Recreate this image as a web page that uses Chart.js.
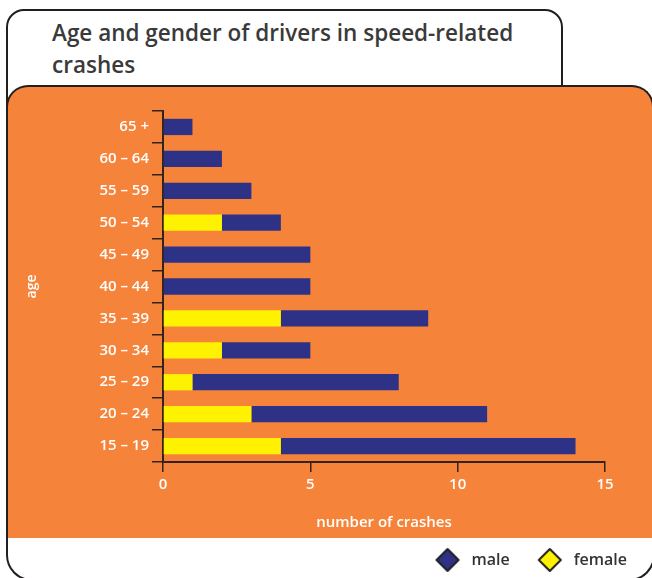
<!DOCTYPE html>
<html>
<head>
<meta charset="utf-8">
<script src="https://cdn.jsdelivr.net/npm/chart.js@4"></script>
<style>
  body { margin:0; width:652px; height:578px; overflow:hidden; position:relative; background:#fff; }
  .frame { position:absolute; left:6px; top:150px; width:649px; height:431px; box-sizing:border-box;
           border:2px solid #231f20; border-radius:26px; }
  .tab { position:absolute; left:6px; top:9px; width:557px; height:130px; box-sizing:border-box;
         border:2px solid #231f20; border-radius:18px; background:#fff; }
  .panel { position:absolute; left:6px; top:85px; width:648px; height:453px; box-sizing:border-box;
           background:#f5833a; border:2px solid #231f20; border-bottom:none; border-radius:22px 22px 0 0; }
  .title { position:absolute; left:52px; top:17px; font-family:"Open Sans", sans-serif; font-weight:600;
           font-size:22.5px; line-height:32px; color:#3a3a3a; }
  canvas { position:absolute; left:0; top:0; }
</style>
</head>
<body>
<div class="frame"></div>
<div class="tab"></div>
<div class="panel"></div>
<div class="title">Age and gender of drivers in speed-related<br>crashes</div>
<canvas id="myChart" width="652" height="578"></canvas>
<script>
const ageGroups = ['65 +','60 – 64','55 – 59','50 – 54','45 – 49','40 – 44','35 – 39','30 – 34','25 – 29','20 – 24','15 – 19'];
const femaleCrashes = [0,0,0,2,0,0,4,2,1,3,4];
const maleCrashes = [1,2,3,2,5,5,5,3,7,8,10];
const xTicks = [0,5,10,15];

const axisCol = '#33231a';
const tickFont = {family:'"Open Sans", sans-serif', size:15, weight:'600'};

// diamond legend marker, drawn right of centre so the text gap matches
function diamond(fill){
  const c=document.createElement('canvas');
  c.width=40; c.height=26;
  const g=c.getContext('2d');
  g.beginPath();
  g.moveTo(27,2); g.lineTo(38,13); g.lineTo(27,24); g.lineTo(16,13); g.closePath();
  g.fillStyle=fill; g.fill();
  g.lineWidth=2; g.lineJoin='round'; g.strokeStyle='#231f20'; g.stroke();
  return c;
}

let myChart = new Chart(document.getElementById('myChart').getContext('2d'), {
  type: 'bar',
  data: {
    labels: ageGroups,
    datasets: [
      {label:'female', data:femaleCrashes, backgroundColor:'#fff200', borderWidth:0},
      {label:'male', data:maleCrashes, backgroundColor:'#2e3287', borderWidth:0}
    ]
  },
  options: {
    indexAxis: 'y',
    responsive: false,
    animation: false,
    devicePixelRatio: 1,
    layout: {padding: {top:111, left:8, right:15, bottom:0}},
    datasets: {bar: {categoryPercentage:1, barPercentage:0.51}},
    scales: {
      x: {
        stacked: true, min:0, max:15,
        afterBuildTicks: s => { s.ticks = xTicks.map(v => ({value:v})); },
        afterFit: s => { s.height = 80; },
        grid: {drawOnChartArea:false, tickLength:10, color:axisCol, lineWidth:1.5},
        border: {color:axisCol, width:2},
        ticks: {color:'#fff', font:tickFont, padding:4},
        title: {display:true, text:'number of crashes', color:'#fff', font:tickFont, padding:{top:0, bottom:10}}
      },
      y: {
        stacked: true,
        afterFit: s => { s.width = 155; },
        grid: {drawOnChartArea:false, offset:true, tickLength:11, color:axisCol, lineWidth:1.5},
        border: {color:axisCol, width:2},
        ticks: {color:'#fff', font:tickFont, padding:3},
        title: {display:true, text:'age', color:'#fff', font:{...tickFont, size:14}, padding:{top:16, bottom:0}}
      },
      yRight: {
        position:'right', type:'linear', display:true,
        grid: {display:false, drawTicks:false}, border:{display:false}, ticks:{display:false},
        afterFit: s => { s.width = 32; }
      }
    },
    plugins: {
      tooltip: {enabled:false},
      legend: {
        position:'bottom', align:'end', reverse:true,
        labels: {
          usePointStyle:true, pointStyleWidth:46, color:'#333', padding:10,
          font:{family:'"Open Sans", sans-serif', size:16, weight:'600'},
          generateLabels: chart => Chart.defaults.plugins.legend.labels.generateLabels(chart)
            .map(l => Object.assign(l, {pointStyle: diamond(l.fillStyle)}))
        }
      }
    }
  }
});
</script>
</body>
</html>
